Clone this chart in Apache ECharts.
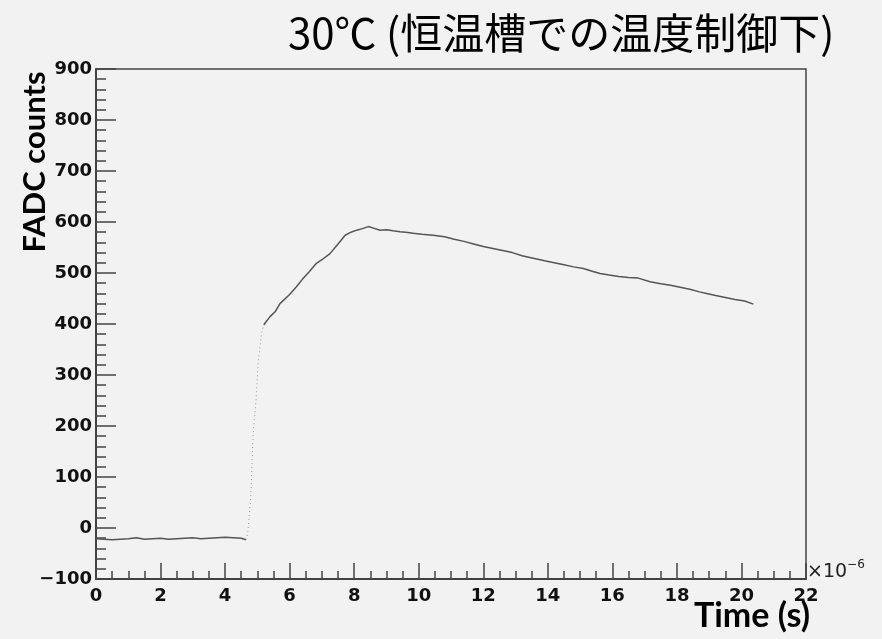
<!DOCTYPE html>
<html>
<head>
<meta charset="utf-8">
<script src="https://cdn.jsdelivr.net/npm/echarts@6/dist/echarts.min.js"></script>
<style>
  html, body { margin: 0; padding: 0; background: #f2f2f2; }
  #chart { width: 882px; height: 639px; }
</style>
</head>
<body>
<div id="chart"></div>
<script>
// time in units of 1e-6 s, FADC counts
const baseTime = [0, 0.25, 0.5, 0.75, 1, 1.25, 1.5, 1.75, 2, 2.25, 2.5, 2.75, 3, 3.25, 3.5, 3.75, 4, 4.25, 4.5, 4.65];
const baseCounts = [-21, -22, -23, -22, -21, -19, -22, -21, -20, -22, -21, -20, -19, -21, -20, -19, -18, -19, -20, -23];

const riseTime = [4.65, 4.7, 4.74, 4.8, 4.87, 4.96, 5.03, 5.08, 5.13, 5.2];
const riseCounts = [-23, -10, 16, 68, 186, 251, 329, 355, 382, 398];

const tailTime = [5.2, 5.24, 5.4, 5.55, 5.7, 5.9, 6.0, 6.21, 6.4, 6.6, 6.83, 7.0, 7.25, 7.5, 7.72, 7.9, 8.08, 8.25, 8.44, 8.6, 8.8, 9.0, 9.2, 9.42, 9.6, 9.83, 10.1, 10.45, 10.8, 11.1, 11.4, 11.7, 12.0, 12.3, 12.6, 12.9, 13.2, 13.55, 13.9, 14.2, 14.5, 14.8, 15.1, 15.4, 15.62, 15.9, 16.2, 16.5, 16.8, 17.17, 17.5, 17.8, 18.1, 18.4, 18.7, 18.92, 19.2, 19.5, 19.8, 20.1, 20.37];
const tailCounts = [398, 402, 415, 424, 440, 452, 458, 473, 488, 502, 519, 526, 538, 557, 574, 580, 584, 587, 591, 588, 584, 585, 583, 581, 580, 578, 576, 574, 571, 566, 562, 557, 552, 548, 544, 540, 534, 529, 524, 520, 516, 512, 509, 503, 499, 496, 493, 491, 490, 483, 479, 476, 472, 468, 463, 460, 456, 452, 448, 445, 439];

const titleText = '30℃ (恒温槽での温度制御下)';
const yName = 'FADC counts';
const xName = 'Time (s)';

const zip = (xs, ys) => xs.map((x, i) => [x, ys[i]]);

const chart = echarts.init(document.getElementById('chart'));
const labelFont = {
  fontFamily: 'DejaVu Sans',
  fontWeight: 'bold',
  fontSize: 18,
  color: '#111',
};

const option = {
  backgroundColor: '#f2f2f2',
  animation: false,
  title: {
    text: titleText,
    left: 283,
    top: 7,
    textStyle: {
      fontFamily: 'Noto Sans CJK JP',
      fontWeight: 'normal',
      fontSize: 42,
      color: '#000',
    },
  },
  grid: {
    left: 96,
    top: 69,
    right: 76,
    bottom: 60,
    show: true,
    borderColor: '#444',
    borderWidth: 1.5,
    backgroundColor: '#f2f2f2',
  },
  xAxis: {
    type: 'value',
    min: 0,
    max: 22,
    interval: 2,
    axisLine: { show: true, onZero: false, lineStyle: { color: '#333', width: 1.5 } },
    axisTick: { show: true, inside: true, length: 16, lineStyle: { color: '#444', width: 1.5 } },
    minorTick: { show: true, splitNumber: 4, length: 8, lineStyle: { color: '#444', width: 1.5 } },
    splitLine: { show: false },
    axisLabel: Object.assign({ margin: 8 }, labelFont),
  },
  yAxis: {
    type: 'value',
    min: -100,
    max: 900,
    interval: 100,
    axisLine: { show: true, onZero: false, lineStyle: { color: '#333', width: 1.5 } },
    axisTick: { show: true, inside: true, length: 20, lineStyle: { color: '#444', width: 1.5 } },
    minorTick: { show: true, splitNumber: 5, length: 10, lineStyle: { color: '#444', width: 1.5 } },
    splitLine: { show: false },
    axisLabel: Object.assign({
      margin: 4,
      formatter: v => String(v).replace('-', '−'),
    }, labelFont),
  },
  graphic: [
    {
      type: 'text',
      x: 35,
      y: 162,
      rotation: Math.PI / 2,
      style: {
        text: yName,
        fontFamily: 'Lato',
        fontWeight: 'bold',
        fontSize: 31,
        fill: '#000',
        align: 'center',
        verticalAlign: 'middle',
      },
    },
    {
      type: 'text',
      x: 810,
      y: 616,
      style: {
        text: xName,
        fontFamily: 'Lato',
        fontWeight: 'bold',
        fontSize: 34,
        fill: '#000',
        align: 'right',
        verticalAlign: 'middle',
      },
    },
    {
      type: 'text',
      x: 807,
      y: 572,
      style: {
        text: '×10{s|−6}',
        rich: { s: { fontFamily: 'DejaVu Sans', fontSize: 12, verticalAlign: 'top', fill: '#222', padding: [0, 0, 14, 0] } },
        fontFamily: 'DejaVu Sans',
        fontSize: 19,
        fill: '#222',
        verticalAlign: 'middle',
      },
    },
  ],
  series: [
    {
      type: 'line',
      data: zip(baseTime, baseCounts),
      showSymbol: false,
      lineStyle: { color: '#555', width: 1.5 },
    },
    {
      type: 'line',
      data: zip(riseTime, riseCounts),
      showSymbol: false,
      lineStyle: { color: '#999', width: 1, type: [1, 3] },
    },
    {
      type: 'line',
      data: zip(tailTime, tailCounts),
      showSymbol: false,
      lineStyle: { color: '#555', width: 1.5 },
    },
  ],
};
chart.setOption(option);
</script>
</body>
</html>
